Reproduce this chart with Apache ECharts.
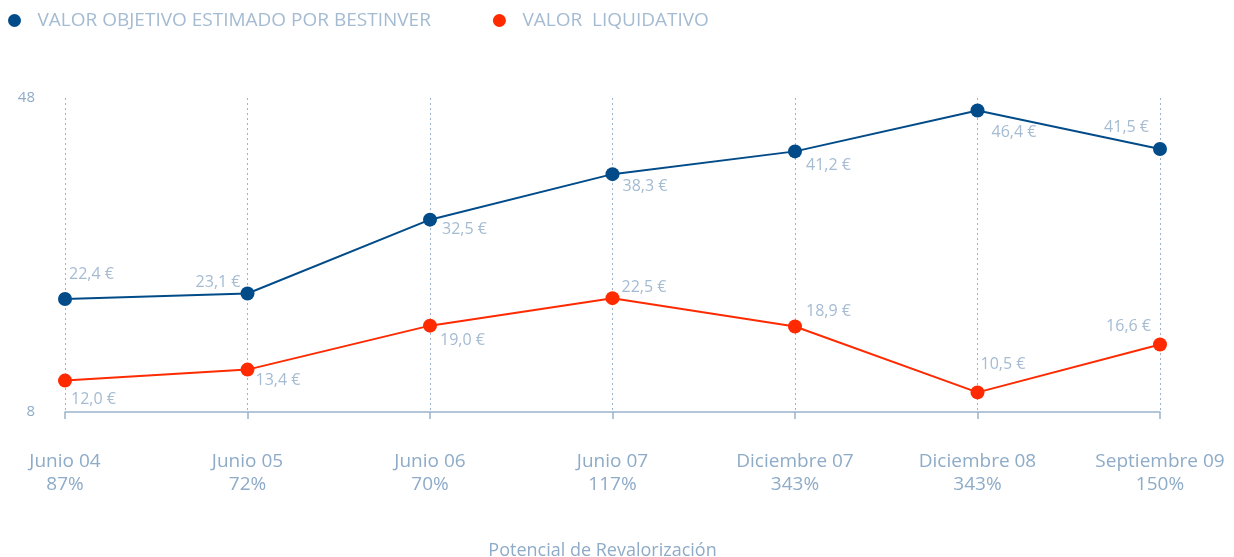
<!DOCTYPE html>
<html>
<head>
<meta charset="utf-8">
<script src="https://cdn.jsdelivr.net/npm/echarts@6/dist/echarts.min.js"></script>
<style>
  html, body { margin: 0; padding: 0; background: #fff; }
  #main { width: 1234px; height: 557px; }
</style>
</head>
<body>
<div id="main"></div>
<script>
// datos
var periodos = ["Junio 04", "Junio 05", "Junio 06", "Junio 07", "Diciembre 07", "Diciembre 08", "Septiembre 09"];
var potencial = ["87%", "72%", "70%", "117%", "343%", "343%", "150%"];
var valorObjetivo = [22.4, 23.1, 32.5, 38.3, 41.2, 46.4, 41.5];
var valorLiquidativo = [12.0, 13.4, 19.0, 22.5, 18.9, 10.5, 16.6];

// colocacion de etiquetas [dx, dy, align]
var posObjetivo = [[4, -25, "left"], [-7, -11, "right"], [12, 10, "left"], [10, 12, "left"], [11, 14, "left"], [14, 22, "left"], [-11, -22, "right"]];
var posLiquidativo = [[6, 19, "left"], [8, 11, "left"], [10, 15, "left"], [9, -11, "left"], [11, -15, "left"], [3, -28, "left"], [-9, -18, "right"]];

var azul = "#004b88";
var rojo = "#ff2a00";
var gris = "#8eabc8";
var grisClaro = "#a4bbd2";
var fuente = "Open Sans";

function euro(v) {
  return v.toFixed(1).replace(".", ",") + " €";
}

function puntos(vals, pos) {
  return vals.map(function (v, i) {
    return {
      value: v,
      label: {
        show: true,
        position: "inside",
        offset: [pos[i][0], pos[i][1]],
        align: pos[i][2],
        verticalAlign: "middle",
        formatter: euro(v),
        color: grisClaro,
        fontSize: 16,
        fontFamily: fuente,
      },
    };
  });
}

var myChart = echarts.init(document.getElementById("main"));
var option = {
  animation: false,
  textStyle: { fontFamily: fuente },
  legend: {
    left: 3,
    top: 6,
    icon: "circle",
    itemWidth: 28,
    itemHeight: 13,
    itemGap: 62,
    textStyle: {
      color: grisClaro,
      fontSize: 19,
      fontFamily: fuente,
      padding: [0, 0, 0, 4],
    },
    data: ["VALOR OBJETIVO ESTIMADO POR BESTINVER", "VALOR  LIQUIDATIVO"],
  },
  grid: {
    left: 65,
    right: 74,
    top: 98,
    bottom: 145,
    outerBoundsMode: "none",
  },
  xAxis: {
    type: "category",
    boundaryGap: false,
    data: periodos,
    name: "Potencial de Revalorización",
    nameLocation: "middle",
    nameGap: 130,
    nameTextStyle: { color: gris, fontSize: 18, fontFamily: fuente, padding: [0, 20, 0, 0] },
    axisLine: { lineStyle: { color: "#9bb3cb", width: 1.5 } },
    axisTick: { show: true, length: 7, lineStyle: { color: "#9bb3cb", width: 1.5 } },
    axisLabel: {
      margin: 38,
      color: gris,
      fontSize: 19,
      lineHeight: 23,
      fontFamily: fuente,
      formatter: function (val, idx) {
        return val + "\n" + potencial[idx];
      },
    },
    splitLine: {
      show: true,
      lineStyle: { color: "#9bb3cb", type: [2, 3], width: 1 },
    },
  },
  yAxis: {
    type: "value",
    min: 8,
    max: 48,
    interval: 40,
    axisLine: { show: false },
    axisTick: { show: false },
    splitLine: { show: false },
    axisLabel: { color: gris, fontSize: 15, margin: 30, fontFamily: fuente },
  },
  series: [
    {
      name: "VALOR OBJETIVO ESTIMADO POR BESTINVER",
      type: "line",
      data: puntos(valorObjetivo, posObjetivo),
      symbol: "circle",
      symbolSize: 14,
      itemStyle: { color: azul },
      lineStyle: { color: azul, width: 2 },
      z: 3,
    },
    {
      name: "VALOR  LIQUIDATIVO",
      type: "line",
      data: puntos(valorLiquidativo, posLiquidativo),
      symbol: "circle",
      symbolSize: 14,
      itemStyle: { color: rojo },
      lineStyle: { color: rojo, width: 2 },
      z: 3,
    },
  ],
};
myChart.setOption(option);
</script>
</body>
</html>
